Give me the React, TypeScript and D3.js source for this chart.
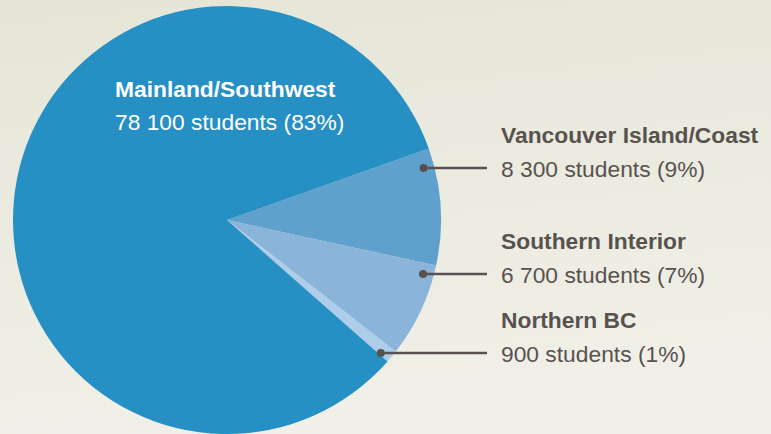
import React from "react";
import * as d3 from "d3";

const regions = ["Vancouver Island/Coast", "Southern Interior", "Northern BC", "Mainland/Southwest"];
const students = [8300, 6700, 900, 78100];
const valueLabels = ["8 300 students (9%)", "6 700 students (7%)", "900 students (1%)", "78 100 students (83%)"];
const colors = ["#5fa1cc", "#8ab4d9", "#aecde9", "#268fc3"];
// label line (y of leader line) for outside labels
const leaderY = [168, 274, 353];

const W = 771;
const H = 434;
const cx = 227;
const cy = 220;
const R = 214;
const startDeg = 70.5;
const FONT = "'Liberation Sans', Arial, Helvetica, sans-serif";
const FS = 22.8;

export default function App() {
  const pie = d3
    .pie<number>()
    .sort(null)
    .value((d) => d)
    .startAngle((startDeg * Math.PI) / 180)
    .endAngle((startDeg * Math.PI) / 180 + 2 * Math.PI);
  const arcs = pie(students);
  const arc = d3.arc<d3.PieArcDatum<number>>().innerRadius(0).outerRadius(R);

  const dotR = R * 0.95;
  const textX = 501;
  const lineEnd = 487;

  return (
    <svg
      width={W}
      height={H}
      style={{ position: "absolute", left: 0, top: 0, display: "block" }}
    >
      <defs>
        <linearGradient id="bg" x1="0" y1="0" x2="0.2" y2="1">
          <stop offset="0" stopColor="#e5e5d7" />
          <stop offset="1" stopColor="#f0f0e8" />
        </linearGradient>
      </defs>
      <rect x={0} y={0} width={W} height={H} fill="url(#bg)" />
      <g transform={`translate(${cx},${cy})`}>
        {arcs.map((a, i) => (
          <path key={i} d={arc(a) || ""} fill={colors[i]} />
        ))}
      </g>
      {leaderY.map((y, i) => {
        const dy = y - cy;
        const dx = Math.sqrt(dotR * dotR - dy * dy);
        const x0 = cx + dx;
        return (
          <g key={i}>
            <line x1={x0} y1={y} x2={lineEnd} y2={y} stroke="#58514f" strokeWidth={2.6} />
            <circle cx={x0} cy={y} r={4} fill="#58514f" />
            <text
              x={textX}
              y={y - 25}
              fontFamily={FONT}
              fontWeight="bold"
              fontSize={FS}
              fill="#58524f"
            >
              {regions[i]}
            </text>
            <text x={textX} y={y + 9} fontFamily={FONT} fontSize={FS} fill="#58524f">
              {valueLabels[i]}
            </text>
          </g>
        );
      })}
      <text x={115} y={97} fontFamily={FONT} fontWeight="bold" fontSize={FS} fill="#ffffff">
        {regions[3]}
      </text>
      <text x={115} y={130} fontFamily={FONT} fontSize={FS} fill="#ffffff">
        {valueLabels[3]}
      </text>
    </svg>
  );
}
